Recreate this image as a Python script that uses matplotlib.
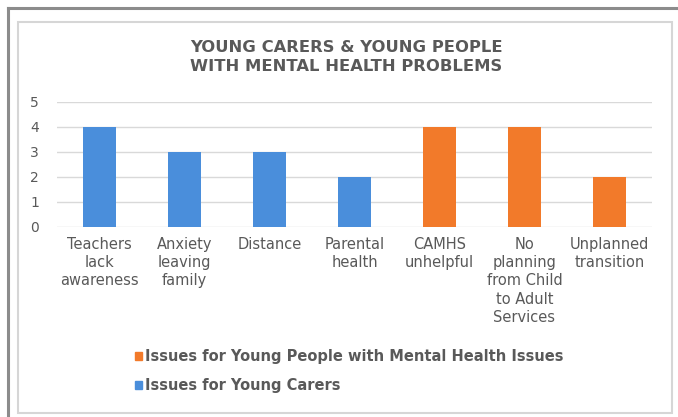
import matplotlib.pyplot as plt
import numpy as np
from matplotlib.patches import Rectangle
from matplotlib.lines import Line2D

# data
categories = [
    "Teachers\nlack\nawareness",
    "Anxiety\nleaving\nfamily",
    "Distance",
    "Parental\nhealth",
    "CAMHS\nunhelpful",
    "No\nplanning\nfrom Child\nto Adult\nServices",
    "Unplanned\ntransition",
]
carers_values = [4, 3, 3, 2]
mental_values = [4, 4, 2]
y_ticks = [0, 1, 2, 3, 4, 5]
series_labels = [
    "Issues for Young People with Mental Health Issues",
    "Issues for Young Carers",
]

BLUE = "#4A8EDB"
ORANGE = "#F27A2A"
TEXT = "#595959"
GRID = "#D9D9D9"

W, H = 678, 417
fig = plt.figure(figsize=(W / 100, H / 100), dpi=100)
fig.patch.set_facecolor("white")

# ── frame (screenshot-like borders) ──────────────────────────────────────────
fig.add_artist(Line2D([8 / W, 8 / W], [0, 1 - 8 / H], color="#8C8C8C", lw=2.2,
                      transform=fig.transFigure))
fig.add_artist(Line2D([8 / W, 1], [1 - 8 / H, 1 - 8 / H], color="#8C8C8C", lw=2.2,
                      transform=fig.transFigure))
fig.add_artist(Rectangle((18 / W, 4 / H), (672 - 18) / W, (413 - 22) / H,
                         fill=False, ec="#D6D6D6", lw=1.5,
                         transform=fig.transFigure))

# ── axes ─────────────────────────────────────────────────────────────────────
ax = fig.add_axes([57 / W, 1 - 227 / H, (652 - 57) / W, (227 - 102) / H])
x = np.arange(len(categories))
n_c = len(carers_values)
bar_w = 0.39
ax.bar(x[:n_c], carers_values, width=bar_w, color=BLUE, zorder=3)
ax.bar(x[n_c:], mental_values, width=bar_w, color=ORANGE, zorder=3)

ax.set_xlim(-0.5, len(categories) - 0.5)
ax.set_ylim(0, 5)
ax.set_yticks(y_ticks)
ax.set_xticks(x)
ax.set_xticklabels(categories, fontsize=10.5, color=TEXT, linespacing=1.28)
ax.tick_params(axis="y", labelsize=10, labelcolor=TEXT, length=0, pad=13)
ax.tick_params(axis="x", length=0, pad=7)
ax.grid(axis="y", color=GRID, lw=1, zorder=0)
for s in ax.spines.values():
    s.set_visible(False)

fig.text(346 / W, 1 - 57 / H, "YOUNG CARERS & YOUNG PEOPLE\nWITH MENTAL HEALTH PROBLEMS",
         ha="center", va="center", fontsize=11.8, fontweight="bold", color=TEXT,
         linespacing=1.4)

# ── legend ───────────────────────────────────────────────────────────────────
handles = [Rectangle((0, 0), 1, 1, color=ORANGE), Rectangle((0, 0), 1, 1, color=BLUE)]
leg = fig.legend(handles, series_labels, loc="upper left",
                 bbox_to_anchor=(122 / W, 1 - 336 / H), frameon=False,
                 handlelength=0.5, handleheight=0.5, handletextpad=0.15,
                 labelspacing=0.95, prop={"size": 10.5, "weight": "bold"})
for t in leg.get_texts():
    t.set_color(TEXT)

fig.savefig("out.png", dpi=100, facecolor="white")
